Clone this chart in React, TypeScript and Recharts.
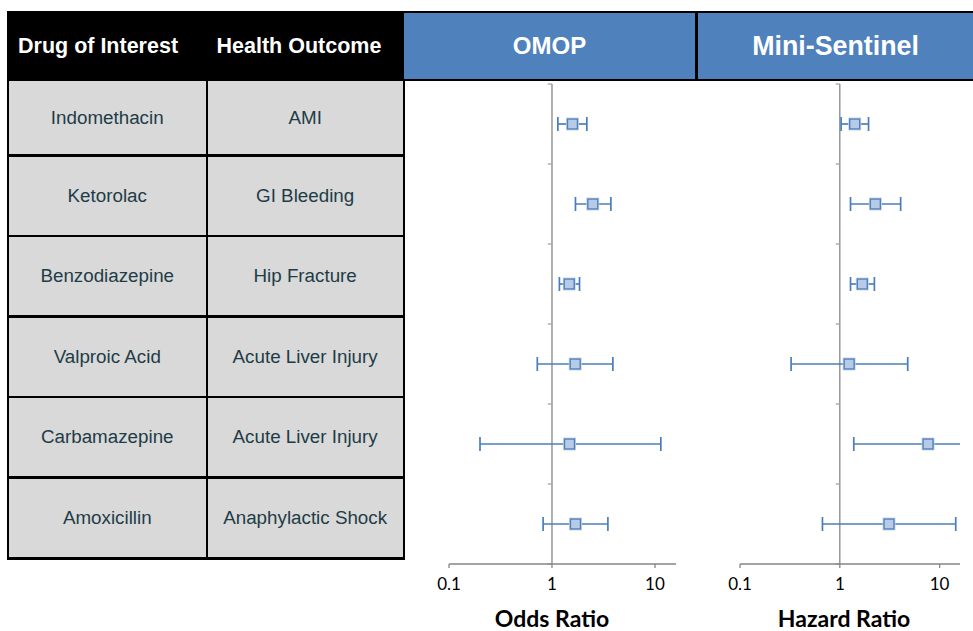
import React from 'react';
import { ScatterChart, Scatter, XAxis, YAxis, ErrorBar, ReferenceLine } from 'recharts';

const drugs = ['Indomethacin', 'Ketorolac', 'Benzodiazepine', 'Valproic Acid', 'Carbamazepine', 'Amoxicillin'];
const outcomes = ['AMI', 'GI Bleeding', 'Hip Fracture', 'Acute Liver Injury', 'Acute Liver Injury', 'Anaphylactic Shock'];

const omopEstimate = [1.58, 2.49, 1.47, 1.68, 1.48, 1.69];
const omopLower = [1.14, 1.69, 1.18, 0.72, 0.2, 0.82];
const omopUpper = [2.18, 3.73, 1.85, 3.9, 11.4, 3.49];

const msEstimate = [1.41, 2.27, 1.68, 1.24, 7.66, 3.11];
const msLower = [1.03, 1.28, 1.28, 0.325, 1.38, 0.67];
const msUpper = [1.94, 4.07, 2.22, 4.79, 20, 14.5];

const xTicks = [0.1, 1, 10];
const xDomain = [0.1, 16];
const yTicks = [0, 1, 2, 3, 4, 5, 6];

const headers = ['Drug of Interest', 'Health Outcome'];
const sourceTitles = ['OMOP', 'Mini-Sentinel'];
const axisTitles = ['Odds Ratio', 'Hazard Ratio'];

const rowLines = [80, 155.5, 236, 316.5, 397, 477.7, 558.5];

function buildRows(est: number[], lo: number[], hi: number[]) {
  return est.map((v, i) => ({ x: v, y: i + 0.5, err: [v - lo[i], hi[i] - v], name: drugs[i] }));
}

const Square = (props: any) => {
  const { cx, cy } = props;
  if (cx == null || cy == null) return null;
  return (
    <g>
      <rect x={cx - 6} y={cy - 6} width={12} height={12} fill="none" stroke="#c9d7ec" strokeWidth={1} />
      <rect x={cx - 5} y={cy - 5} width={10} height={10} fill="#b7cae6" stroke="#4f81bd" strokeWidth={1.4} />
    </g>
  );
};

function Forest({ rows, width, height, left, right }: any) {
  return (
    <ScatterChart width={width} height={height} margin={{ top: 4, right, bottom: 37, left }}>
      <XAxis
        type="number"
        dataKey="x"
        scale="log"
        domain={xDomain}
        allowDataOverflow
        ticks={xTicks}
        interval={0}
        tickFormatter={(v: number) => String(v)}
        axisLine={{ stroke: '#868686', strokeWidth: 1.3 }}
        tickLine={{ stroke: '#868686', strokeWidth: 1.3 }}
        tickSize={4}
        tickMargin={10}
        tick={{ fontFamily: 'Lato', fontSize: 17, fill: '#000' }}
        height={30}
      />
      <YAxis type="number" dataKey="y" domain={[0, 6]} reversed hide ticks={yTicks} allowDataOverflow />
      <ReferenceLine x={1} stroke="#868686" strokeWidth={1.3} ifOverflow="visible" />
      {yTicks.map((t) => (
        <ReferenceLine
          key={t}
          segment={[{ x: 0.91, y: t }, { x: 1, y: t }]}
          stroke="#a6a6a6"
          strokeWidth={1.3}
          ifOverflow="visible"
        />
      ))}
      <Scatter data={rows} shape={Square} isAnimationActive={false}>
        <ErrorBar dataKey="err" direction="x" width={7} stroke="#4a7ebb" strokeWidth={1.7} isAnimationActive={false} />
      </Scatter>
    </ScatterChart>
  );
}

const textColor = '#1e3c46';

export default function App() {
  const omopRows = buildRows(omopEstimate, omopLower, omopUpper);
  const msRows = buildRows(msEstimate, msLower, msUpper);
  const cols = [
    { left: 9, right: 205.5, values: drugs },
    { left: 207.5, right: 402.8, values: outcomes },
  ];
  return (
    <div style={{ position: 'absolute', left: 0, top: 0, width: 973, height: 631, background: '#fff', overflow: 'hidden', fontFamily: '"Liberation Sans", Arial, sans-serif' }}>
      {/* header bar */}
      <div style={{ position: 'absolute', left: 7, top: 11, width: 966, height: 70, background: '#000' }} />
      {headers.map((h, i) => (
        <div
          key={h}
          style={{ position: 'absolute', left: i === 0 ? 18 : 216.5, top: 13, height: 66, lineHeight: '66px', color: '#fff', fontWeight: 'bold', fontSize: 21.5 }}
        >
          {h}
        </div>
      ))}
      {sourceTitles.map((t, i) => (
        <div
          key={t}
          style={{
            position: 'absolute',
            left: i === 0 ? 404 : 697.5,
            top: 13,
            width: i === 0 ? 291 : 276,
            height: 66,
            lineHeight: '66px',
            background: '#4f81bd',
            color: '#fff',
            fontWeight: 'bold',
            fontSize: i === 0 ? 24 : 26.8,
            textAlign: 'center',
          }}
        >
          {t}
        </div>
      ))}
      {/* table body */}
      <div style={{ position: 'absolute', left: 7, top: 79, width: 398, height: 481, background: '#000' }} />
      {cols.map((c, ci) =>
        c.values.map((v, ri) => {
          const top = rowLines[ri] + 1.2;
          const h = rowLines[ri + 1] - rowLines[ri] - 2.4;
          return (
            <div
              key={ci + '-' + ri}
              style={{
                position: 'absolute',
                left: c.left,
                top,
                width: c.right - c.left,
                height: h,
                background: '#d9d9d9',
                display: 'flex',
                alignItems: 'center',
                justifyContent: 'center',
                color: textColor,
                fontSize: 18.8,
              }}
            >
              {v}
            </div>
          );
        })
      )}
      {/* charts */}
      <div style={{ position: 'absolute', left: 405, top: 80 }}>
        <Forest rows={omopRows} width={290} height={551} left={44} right={19} />
      </div>
      <div style={{ position: 'absolute', left: 695, top: 80 }}>
        <Forest rows={msRows} width={265} height={551} left={45} right={0} />
      </div>
      {axisTitles.map((t, i) => (
        <div
          key={t}
          style={{
            position: 'absolute',
            left: (i === 0 ? 552 : 844) - 100,
            width: 200,
            top: 608.3,
            height: 20,
            lineHeight: '20px',
            textAlign: 'center',
            fontFamily: 'Lato',
            fontWeight: 'bold',
            fontSize: 23,
            color: '#000',
            whiteSpace: 'nowrap',
          }}
        >
          {t}
        </div>
      ))}
    </div>
  );
}
